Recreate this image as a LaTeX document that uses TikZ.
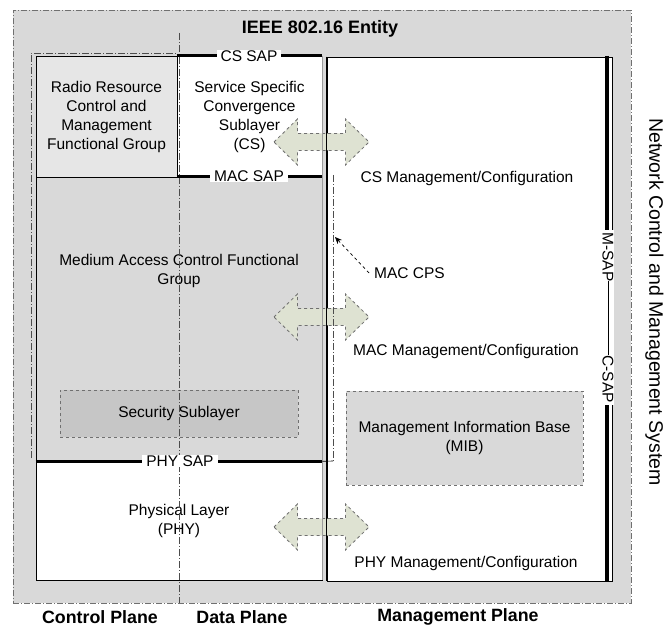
\documentclass[tikz,border=0pt]{standalone}
\usepackage{fontspec}
\setmainfont{Liberation Sans}
\usetikzlibrary{fit,arrows.meta}
\definecolor{bggray}{HTML}{D9D9D9}
\definecolor{rrcgray}{HTML}{E6E6E6}
\definecolor{secgray}{HTML}{C6C6C6}
\definecolor{arrowfillc}{HTML}{DEE2D2}
\definecolor{edgegray}{HTML}{707070}
\tikzset{
  txt/.style={font=\fontsize{15.5}{19}\selectfont, align=center, inner sep=0pt},
  bigbold/.style={font=\fontsize{17.8}{21}\selectfont\bfseries, inner sep=0pt},
  blockbox/.style={draw=black, line width=0.6pt, inner sep=0pt, align=center,
    font=\fontsize{15.5}{19}\selectfont},
  dashbox/.style={draw=edgegray, dashed, line width=0.8pt, inner sep=0pt, align=center,
    font=\fontsize{15.5}{19}\selectfont},
  sapline/.style={line width=3.2pt, black},
  saplabel/.style={fill=white, inner xsep=4pt, inner ysep=1pt, font=\fontsize{15.5}{17}\selectfont},
  planeline/.style={draw=black!70, line width=0.8pt, dash pattern=on 7pt off 2pt on 1pt off 2pt},
  arrowshape/.style={fill=arrowfillc, draw=edgegray, dashed, line width=0.8pt},
  pics/dblarrow/.style={code={
    \draw[arrowshape] (-47.5,0) -- (-24,-23) -- (-24,-8.5) -- (24,-8.5) -- (24,-23)
      -- (47.5,0) -- (24,23) -- (24,8.5) -- (-24,8.5) -- (-24,23) -- cycle;}}
}
\begin{document}
\begin{tikzpicture}[x=1pt,y=-1pt]
\useasboundingbox (0,0) rectangle (667,628);
% entity
\node (entity) [fit={(13,10) (631,603)}, inner sep=0pt, fill=bggray, draw=edgegray,
  line width=0.8pt, dash pattern=on 6pt off 2pt on 1pt off 2pt] {};
\node (title) [bigbold, font=\fontsize{18}{21}\selectfont\bfseries] at (320,29) {IEEE 802.16 Entity};
% management plane box
\node (mgmt) [blockbox, fill=white, minimum width=285pt, minimum height=524pt] at (469.5,319) {};
% left stack
\node (rrc) [blockbox, fill=rrcgray, minimum width=141pt, minimum height=121pt] at (106.5,116.5)
  {Radio Resource\\Control and\\Management\\Functional Group};
\node (cs) [blockbox, fill=white, minimum width=145pt, minimum height=121pt] at (249.5,116.5)
  {Service Specific\\Convergence\\Sublayer\\(CS)};
\node (mac) [blockbox, fill=bggray, minimum width=286pt, minimum height=284pt] at (179,319) {};
\node (phy) [blockbox, fill=white, minimum width=286pt, minimum height=119pt] at (179,520.5)
  {Physical Layer\\(PHY)};
\node (mactxt) [txt] at (179,271) {Medium Access Control Functional\\Group};
\node (sec) [dashbox, fill=secgray, minimum width=238pt, minimum height=47pt] at (179,413.5)
  {Security Sublayer};
% management plane contents
\node (csmgmt) [txt] at (467,178) {CS Management/Configuration};
\node (macmgmt) [txt] at (466,351) {MAC Management/Configuration};
\node (mib) [dashbox, fill=bggray, minimum width=237pt, minimum height=94pt] at (464.5,438)
  {Management Information Base\\(MIB)};
\node (phymgmt) [txt] at (466,563) {PHY Management/Configuration};
% arrows
\pic at (321.5,142) {dblarrow};
\pic at (321.5,317) {dblarrow};
\pic at (321.5,527) {dblarrow};
% separating lines over the arrows
\draw[edgegray!70, line width=1.6pt] (322.5,56) -- (322.5,580);
\draw[black, line width=0.6pt] (mgmt.north west) -- (mgmt.south west);
% plane boundaries
\coordinate (dpTop) at (179,33);
\coordinate (dpBot) at (179,603);
\draw[planeline] (dpTop) -- (dpBot);
\coordinate (cpA) at (31,458);
\coordinate (cpB) at (31,53);
\coordinate (cpC) at (177,53);
\draw[planeline] (cpA) -- (cpB) -- (cpC);
\coordinate (cpsTop) at (333,175);
\coordinate (cpsBot) at (333,461);
\draw[planeline] (cpsTop) -- (cpsBot);
% SAPs
\draw[sapline] (cs.north west) -- (cs.north east);
\node (cssap) [saplabel] at (249,56) {CS SAP};
\draw[sapline] ([yshift=1pt]cs.south west) -- ([yshift=1pt]cs.south east);
\node (macsap) [saplabel] at (249,176) {MAC SAP};
\draw[sapline] (mac.south west) -- (mac.south east);
\draw[black, line width=0.6pt] (mac.south east) -- (cpsBot);
\node (physap) [saplabel] at (180,461) {PHY SAP};
\coordinate (msapTop) at (607,56);
\coordinate (msapBot) at (607,581);
\draw[sapline] (msapTop) -- (msapBot);
\node (mcsap) [saplabel, rotate=-90, inner xsep=2pt, inner ysep=1pt] at (608,317.5)
  {M-SAP\rule[0.32em]{74pt}{0.6pt}C-SAP};
% MAC CPS
\node (maccps) [txt, anchor=west] at (374,273) {MAC CPS};
\draw[black, line width=0.7pt, dashed, -{Stealth[length=7pt,width=6pt]}] (maccps.west) ++(-5,0) -- (335,237);
% plane labels
\node (cplabel) [bigbold] at (100,617) {Control Plane};
\node (dplabel) [bigbold] at (242,617) {Data Plane};
\node (mplabel) [bigbold] at (458,617) {Management Plane};
\node (nms) [txt, font=\fontsize{19.5}{23}\selectfont, rotate=-90] at (654.5,302)
  {Network Control and Management System};
\end{tikzpicture}
\end{document}
